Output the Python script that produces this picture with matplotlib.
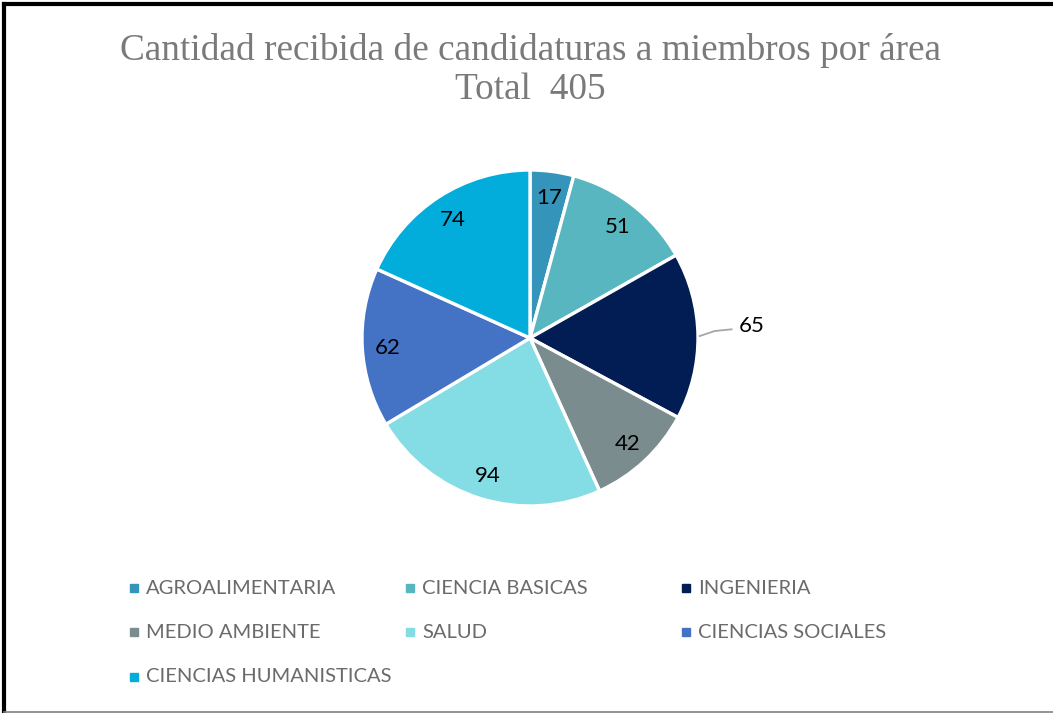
import matplotlib
matplotlib.use("Agg")
import matplotlib.pyplot as plt
from matplotlib.patches import Rectangle
from matplotlib.lines import Line2D
import numpy as np

categories = ["AGROALIMENTARIA", "CIENCIA BASICAS", "INGENIERIA", "MEDIO AMBIENTE",
              "SALUD", "CIENCIAS SOCIALES", "CIENCIAS HUMANISTICAS"]
values = [17, 51, 65, 42, 94, 62, 74]
colors = ["#3494BA", "#58B6C0", "#021D53", "#7A8C8E", "#84DDE4", "#4472C4", "#02ADDB"]
title_lines = ["Cantidad recibida de candidaturas a miembros por área", "Total  405"]

W, H = 1053, 713
fig = plt.figure(figsize=(W / 100, H / 100), dpi=100)
fig.patch.set_facecolor("white")

# border
fig.add_artist(Line2D([4 / W, 4 / W], [0, 1 - 4 / H], color="black", lw=3, transform=fig.transFigure))
fig.add_artist(Line2D([4 / W, 1], [1 - 4 / H, 1 - 4 / H], color="black", lw=3, transform=fig.transFigure))
fig.add_artist(Line2D([4 / W, 1], [1.5 / H, 1.5 / H], color="#808080", lw=1.2, transform=fig.transFigure))

# title
fig.text(530 / W, 1 - 50 / H, title_lines[0], ha="center", va="center",
         family="Liberation Serif", fontsize=26.8, color="#7a7a7a")
fig.text(530 / W, 1 - 90 / H, title_lines[1], ha="center", va="center",
         family="Liberation Serif", fontsize=26.8, color="#7a7a7a")

# pie
cx, cy, r = 530, 338, 168
ax = fig.add_axes([(cx - r) / W, (H - cy - r) / H, 2 * r / W, 2 * r / H])
wedges, _ = ax.pie(values, colors=colors, startangle=90, counterclock=False,
                   wedgeprops=dict(edgecolor="white", linewidth=2.4))
ax.set_xlim(-1, 1)
ax.set_ylim(-1, 1)
ax.set_aspect("equal")
ax.axis("off")

label_font = "Lato"
total = sum(values)
start = 90.0
for i, v in enumerate(values):
    mid = start - v / total * 360 / 2
    start -= v / total * 360
    a = np.deg2rad(mid)
    if categories[i] == "INGENIERIA":
        x0, y0 = 1.0 * np.cos(a), 1.0 * np.sin(a)
        ax.plot([x0 + 0.01, 1.1, 1.2], [y0, y0 + 0.03, y0 + 0.04], color="#a6a6a6", lw=1.3, clip_on=False)
        ax.text(1.32, y0 + 0.06, str(v), ha="center", va="center", fontsize=16,
                family=label_font, color="black", clip_on=False)
    else:
        rr = 0.85
        ax.text(rr * np.cos(a), rr * np.sin(a) - 0.01, str(v), ha="center", va="center",
                fontsize=16, family=label_font, color="black")

# legend (manual, row-major)
col_x = [134, 410, 686]
row_y = [588, 632, 677]
for i, (lab, c) in enumerate(zip(categories, colors)):
    row, col = divmod(i, 3)
    x, y = col_x[col], row_y[row]
    fig.add_artist(Rectangle(((x - 4) / W, (H - y - 4) / H), 8 / W, 8 / H, color=c,
                             transform=fig.transFigure))
    fig.text((x + 12) / W, (H - y) / H, lab, ha="left", va="center",
             family=label_font, fontsize=14.5, color="#6b6b6b")

fig.savefig("out.png", dpi=100)
